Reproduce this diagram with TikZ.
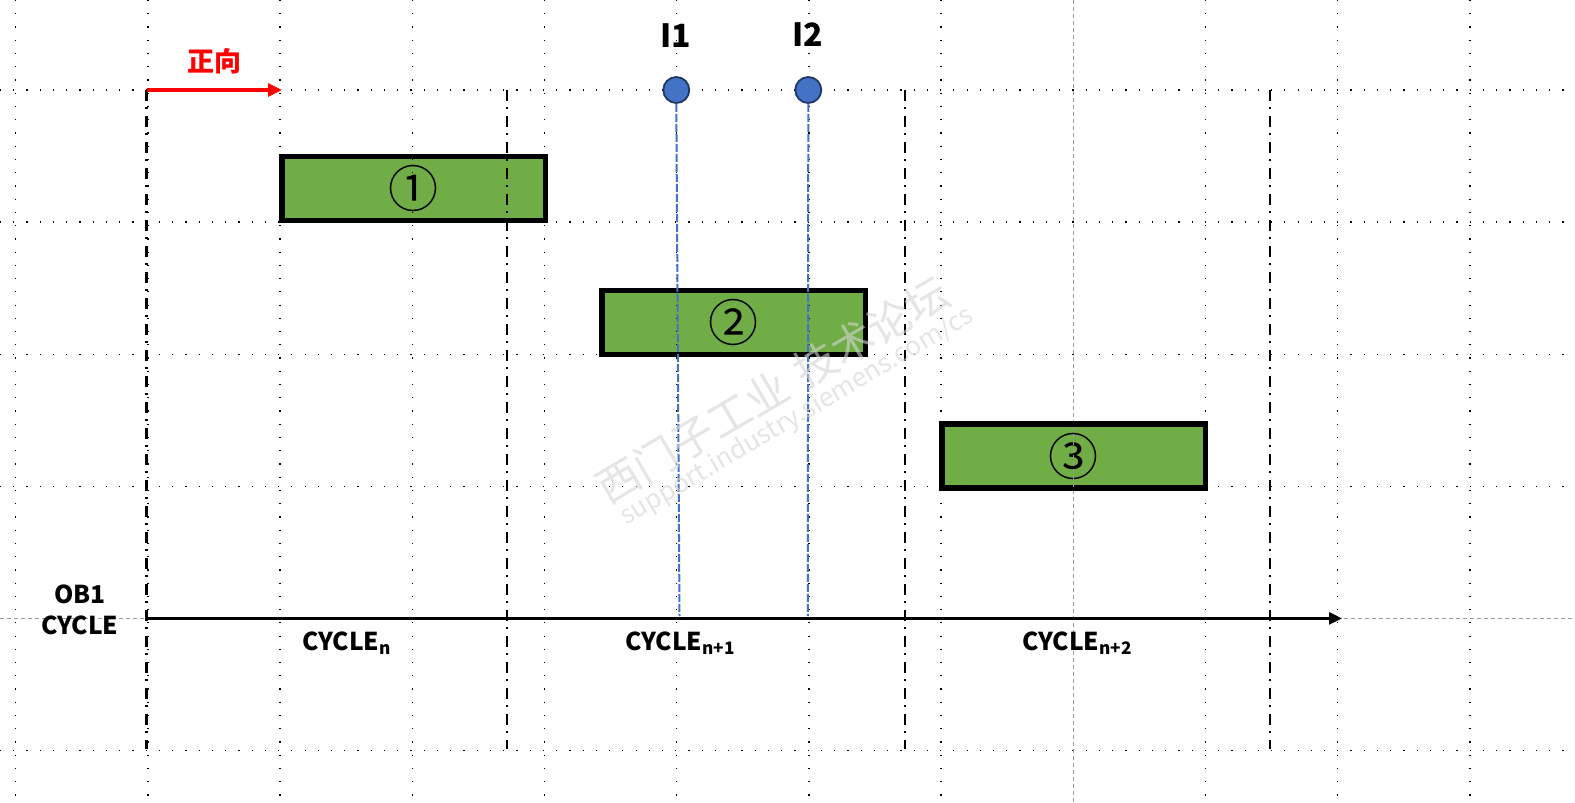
\documentclass[tikz,border=0pt]{standalone}
\usepackage{fontspec}
\setmainfont{Noto Sans CJK SC}
\usetikzlibrary{arrows.meta}
\definecolor{boxgreen}{HTML}{70AD47}
\definecolor{dotblue}{HTML}{4472C4}
\definecolor{dotedge}{HTML}{1F3864}
\definecolor{gridgray}{HTML}{9A9A9A}
\definecolor{wmgray}{HTML}{D4D4D4}
\tikzset{
  griddot/.style={line width=0.7pt, dash pattern=on 0.6pt off 6.02pt, black},
  gridguide/.style={line width=0.5pt, dash pattern=on 2pt off 1.5pt, gridgray},
  cyclesep/.style={line width=1.2pt, dash pattern=on 5.5pt off 3pt on 1pt off 3.5pt, black},
  phasebox/.style={draw=black, line width=1.8pt, fill=boxgreen, minimum width=130.8pt, minimum height=31.2pt, inner sep=0pt, font=\fontsize{25}{25}\selectfont},
  inpoint/.style={circle, draw=dotedge, line width=0.9pt, fill=dotblue, minimum size=13pt, inner sep=0pt},
  inline/.style={dotblue, line width=1pt, dash pattern=on 4pt off 1pt},
  lbl/.style={font=\bfseries\fontsize{12.3}{14}\selectfont, inner sep=0pt, align=center},
  inlbl/.style={font=\bfseries\fontsize{16}{16}\selectfont, inner sep=0pt},
  wm/.style={text=wmgray, text opacity=0.6, inner sep=0pt, rotate=30.5}
}
\begin{document}
\begin{tikzpicture}[x=0.5pt,y=-0.5pt]
\useasboundingbox (0,0) rectangle (1575,803);
\fill[white] (0,0) rectangle (1575,803);

% boxes
\node[phasebox] (b1) at (413.5,188.5) {①};
\node[phasebox] (b2) at (733.5,322.5) {②};
\node[phasebox] (b3) at (1073.5,456) {③};

% grid
\foreach \k in {0,1,2,3,4,5,6,7,9,10,11} {
  \draw[griddot] (15.7+132.2*\k,0) -- (15.7+132.2*\k,803);
}
\foreach \k in {0,1,2,3,5} {
  \draw[griddot] (0,90+132.1*\k) -- (1575,90+132.1*\k);
}
\draw[gridguide] (1073.3,0) -- (1073.3,803);
\draw[gridguide] (0,618.4) -- (1575,618.4);

% cycle separators
\coordinate (s0t) at (146.5,90);  \coordinate (s0b) at (146.5,749);
\coordinate (s1t) at (507,90);  \coordinate (s1b) at (507,749);
\coordinate (s2t) at (905,90);  \coordinate (s2b) at (905,749);
\coordinate (s3t) at (1270,90); \coordinate (s3b) at (1270,749);
\draw[cyclesep] (s0t) -- (s0b);
\draw[cyclesep] (s1t) -- (s1b);
\draw[cyclesep] (s2t) -- (s2b);
\draw[cyclesep] (s3t) -- (s3b);

% redraw box borders over grid
\draw[line width=1.8pt] (b1.south west) rectangle (b1.north east);
\draw[line width=1.8pt] (b2.south west) rectangle (b2.north east);
\draw[line width=1.8pt] (b3.south west) rectangle (b3.north east);

% direction arrow
\coordinate (d0) at (146.5,90);
\coordinate (d1) at (282,90);
\draw[red, line width=1.6pt, -{Triangle[length=7pt,width=6.5pt]}] (d0) -- (d1);
\node[text=red, font=\bfseries\fontsize{13.5}{14}\selectfont, inner sep=0pt] (dir) at (214,61.5) {正向};

% time axis
\coordinate (ax0) at (146.5,618.4);
\coordinate (ax1) at (1342,618.4);
\draw[line width=1.4pt, -{Triangle[length=6.5pt,width=6pt]}] (ax0) -- (ax1);

% input points
\node[inpoint] (c1) at (676.3,90) {};
\node[inpoint] (c2) at (808.3,90) {};
\coordinate (a1) at (679.5,616);
\coordinate (a2) at (807.8,616);
\draw[inline] (c1.south) -- (a1);
\draw[inline] (c2.south) -- (a2);
\node[inlbl] (i1) at (676,36) {I1};
\node[inlbl] (i2) at (808,35) {I2};

% labels
\node[lbl] (ob1) at (80,594) {OB1};
\node[lbl] (obc) at (80,625.5) {CYCLE};
\node[lbl] (cn) at (347,643) {CYCLE\textsubscript{n}};
\node[lbl] (cn1) at (680.5,643) {CYCLE\textsubscript{n+1}};
\node[lbl] (cn2) at (1077.5,643) {CYCLE\textsubscript{n+2}};

% watermark
\node[wm, font=\fontsize{21.5}{21.5}\selectfont] (wm1) at (773,390) {西门子工业\hspace{7pt}技术论坛};
\node[wm, font=\fontsize{13}{13}\selectfont] (wm2) at (797,417) {support.industry.siemens.com/cs};
\end{tikzpicture}
\end{document}
